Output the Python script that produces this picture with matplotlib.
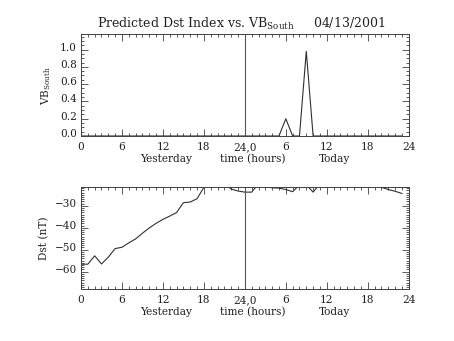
import matplotlib
matplotlib.use("Agg")
import matplotlib.pyplot as plt
import matplotlib.transforms as mtransforms
from matplotlib.ticker import FixedLocator, MultipleLocator

plt.rcParams["font.family"] = ["DejaVu Serif"]
plt.rcParams["mathtext.fontset"] = "dejavuserif"

# Hours covering yesterday (0-23) and today (24-47)
hours = list(range(48))

# Southward IMF (VB_south), zero except two short bursts this morning
vb_south = [0.0] * 48
vb_south[30] = 0.20
vb_south[33] = 0.98

# Predicted Dst index (nT)
dst = [-56.6, -56.6, -52.8, -56.5, -53.4, -49.5, -48.9, -46.9, -45.1, -42.5,
       -40.1, -38.0, -36.2, -34.7, -33.1, -28.6, -28.3, -26.8, -21.6, -19.0,
       -19.0, -20.0, -22.4, -23.3, -23.8, -23.8, -20.0, -21.5, -21.8, -22.0,
       -22.6, -23.6, -20.5, -20.5, -23.8, -20.0, -20.0, -20.0, -20.0, -20.0,
       -20.0, -20.0, -20.0, -20.0, -21.6, -22.6, -23.4, -24.4]

xtick_pos = [0, 6, 12, 18, 24, 30, 36, 42, 48]
xtick_labels = ["0", "6", "12", "18", "24,0", "6", "12", "18", "24"]
vb_ticks = [0.0, 0.2, 0.4, 0.6, 0.8, 1.0]
dst_ticks = [-60, -50, -40, -30]

W, H = 454, 341
fig = plt.figure(figsize=(W / 100, H / 100), dpi=100)

left = 81 / W
width = 327.7 / W
ax1 = fig.add_axes([left, 1 - 136 / H, width, 102 / H])
ax2 = fig.add_axes([left, 1 - 289 / H, width, 101.7 / H])

line_c = "#303030"
axis_c = "#404040"
text_c = "#222222"
fs = 7.6

label_shift = mtransforms.ScaledTranslation(0, 3 / 100, fig.dpi_scale_trans)


def style_axes(ax, yticks, yminor):
    ax.set_xlim(0, 48)
    ax.xaxis.set_major_locator(FixedLocator(xtick_pos))
    ax.set_xticklabels(xtick_labels)
    ax.xaxis.set_minor_locator(MultipleLocator(1))
    ax.yaxis.set_major_locator(FixedLocator(yticks))
    ax.yaxis.set_minor_locator(MultipleLocator(yminor))
    ax.tick_params(which="both", direction="in", top=True, right=True,
                   colors=axis_c, labelcolor=text_c, labelsize=fs, width=0.6)
    ax.tick_params(which="major", length=5)
    ax.tick_params(which="minor", length=2.5)
    ax.tick_params(axis="x", pad=4.2)
    ax.tick_params(axis="y", pad=3)
    for s in ax.spines.values():
        s.set_color(axis_c)
        s.set_linewidth(0.7)
    ax.axvline(24, color="#555555", lw=0.8)
    for txt, xh in (("Yesterday", 12.5), ("time (hours)", 25.2), ("Today", 37.2)):
        ax.text(xh, -0.225, txt, transform=ax.get_xaxis_transform(),
                ha="center", va="center", fontsize=fs, color=text_c)


# Top panel: VB_south
ax1.plot(hours, vb_south, color=line_c, lw=0.8)
ax1.set_ylim(0, 1.18)
style_axes(ax1, vb_ticks, 0.05)
ax1.set_yticklabels([f"{v:.1f}" for v in vb_ticks])
ax1.set_ylabel(r"VB$_{\mathrm{South}}$", fontsize=fs, color=text_c)
ax1.yaxis.set_label_coords(-0.085, 0.5)

# Bottom panel: Dst
ax2.plot(hours, dst, color=line_c, lw=0.8)
ax2.set_ylim(-67.9, -21.6)
style_axes(ax2, dst_ticks, 1)
ax2.set_ylabel("Dst (nT)", fontsize=fs, color=text_c)
ax2.yaxis.set_label_coords(-0.098, 0.5)

for ax in (ax1, ax2):
    for lab in ax.get_yticklabels():
        lab.set_transform(lab.get_transform() + label_shift)

fig.text(241.5 / W, 1 - 28 / H,
         r"Predicted Dst Index vs. VB$_{\mathrm{South}}$     04/13/2001",
         ha="center", va="baseline", fontsize=9.0, color=text_c)

fig.savefig("out.png", dpi=100, facecolor="white")
